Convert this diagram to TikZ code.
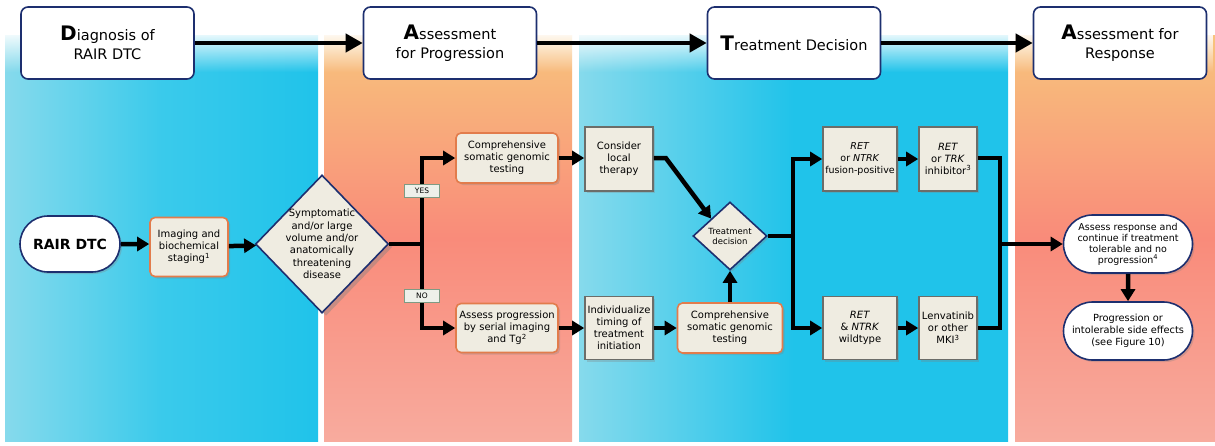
\documentclass[tikz,border=0pt]{standalone}
\usepackage{fontspec}
\setmainfont{DejaVu Sans}
\usetikzlibrary{arrows.meta,shapes.geometric,shapes.misc,shadows,fadings}
\definecolor{navy}{HTML}{1D2F6F}
\definecolor{oline}{HTML}{E27C4C}
\definecolor{gline}{HTML}{6C6D69}
\definecolor{beige}{HTML}{EFECE1}
\definecolor{tline}{HTML}{7E9B84}
\definecolor{tagfill}{HTML}{EEF0EA}
\definecolor{bluel}{HTML}{86DAEC}
\definecolor{bluem}{HTML}{3ACAEB}
\definecolor{bluer}{HTML}{20C3EA}
\definecolor{orgt}{HTML}{F8C47C}
\definecolor{orgm}{HTML}{F98B7A}
\definecolor{orgb}{HTML}{F8AB9E}
\tikzfading[name=fadetop, top color=transparent!0, bottom color=transparent!100]
\newcommand\headfont{\fontsize{14.5}{19}\selectfont}
\newcommand\boxfont{\fontsize{10}{12}\selectfont}
\newcommand\capletter[1]{{\fontsize{20}{19}\selectfont\bfseries #1}}
\begin{document}
\begin{tikzpicture}[x=1pt,y=-1pt,
  head/.style={draw=navy,line width=1.6pt,fill=white,rounded corners=7pt,minimum width=173pt,minimum height=72pt,align=center,font=\headfont},
  shad/.style={drop shadow={opacity=.3,shadow xshift=2pt,shadow yshift=-2pt}},
  obox/.style={shad,draw=oline,line width=1.6pt,fill=beige,rounded corners=5pt,align=center,font=\boxfont,inner sep=1pt},
  gbox/.style={shad,draw=gline,line width=1.6pt,fill=beige,align=center,font=\boxfont,inner sep=1pt},
  dia/.style={diamond,draw=navy,line width=1.6pt,fill=beige,inner sep=0pt},
  pill/.style={shad,rounded rectangle,draw=navy,line width=1.6pt,fill=white,align=center,inner sep=1pt},
  tag/.style={draw=tline,line width=1.2pt,fill=tagfill,font=\fontsize{7.5}{7.5}\selectfont,minimum width=35pt,minimum height=12.5pt,inner sep=0pt},
  link/.style={line width=4.5pt,line join=miter},
  arr/.style={link,-{Triangle[length=12pt,width=14pt]}},
  harr/.style={line width=4pt,-{Triangle[length=17pt,width=18pt]}}]
\useasboundingbox (0,0) rectangle (1215,445);
\shade[left color=bluel,right color=bluer,middle color=bluem] (5,35) rectangle (318,441);
\shade[top color=orgt,bottom color=orgb,middle color=orgm] (324,35) rectangle (572,441);
\shade[left color=bluel,right color=bluer,middle color=bluer] (579,35) rectangle (1008,441);
\shade[top color=orgt,bottom color=orgb,middle color=orgm] (1015,35) rectangle (1215,441);
\fill[white,path fading=fadetop] (0,30) rectangle (1215,72);

\node[head] (hdiag) at (107.5,43) {\capletter{D}iagnosis of\\RAIR DTC};
\node[head] (hprog) at (450,43) {\capletter{A}ssessment\\for Progression};
\node[head] (htreat) at (794,43) {\capletter{T}reatment Decision};
\node[head] (hresp) at (1120,43) {\capletter{A}ssessment for\\Response};
\draw[harr] (hdiag) -- (hprog);
\draw[harr] (hprog) -- (htreat);
\draw[harr] (htreat) -- (hresp);

\node[pill,minimum width=102pt,minimum height=56pt,font=\fontsize{14}{16}\selectfont\bfseries] (rair) at (70,244) {RAIR DTC};
\node[obox,minimum width=78pt,minimum height=59pt] (staging) at (189,247) {Imaging and\\biochemical\\staging\textsuperscript{1}};
\node[dia,minimum width=133pt,minimum height=138pt,drop shadow={opacity=.4,shadow xshift=4pt,shadow yshift=-3pt}] (symp) at (322,244) {};
\node[align=center,font=\fontsize{10}{12.3}\selectfont] at (symp) {Symptomatic\\and/or large\\volume and/or\\anatomically\\threatening\\disease};
\coordinate (br1) at (422,244);

\node[obox,minimum width=102pt,minimum height=50pt] (cgta) at (507,158) {Comprehensive\\somatic genomic\\testing};
\node[obox,minimum width=102pt,minimum height=49pt] (serial) at (507,328) {Assess progression\\by serial imaging\\and Tg\textsuperscript{2}};
\node[gbox,minimum width=68pt,minimum height=64pt] (local) at (619,159) {Consider\\local\\therapy};
\node[gbox,minimum width=68pt,minimum height=63pt] (indiv) at (619,328) {Individualize\\timing of\\treatment\\initiation};
\node[obox,minimum width=105pt,minimum height=50pt] (cgtb) at (730,328) {Comprehensive\\somatic genomic\\testing};
\node[dia,minimum width=74pt,minimum height=68pt,shad] (tdec) at (730,236) {};
\node[align=center,font=\fontsize{8.5}{10}\selectfont] at (tdec) {Treatment\\decision};
\coordinate (br2) at (793,236);

\node[gbox,minimum width=74pt,minimum height=64pt,font=\fontsize{9.5}{12}\selectfont] (fusion) at (860,159) {\textit{RET}\\or \textit{NTRK}\\fusion-positive};
\node[gbox,minimum width=58pt,minimum height=64pt] (inhib) at (948,159) {\textit{RET}\\or \textit{TRK}\\inhibitor\textsuperscript{3}};
\node[gbox,minimum width=74pt,minimum height=63pt] (wild) at (860,328) {\textit{RET}\\\& \textit{NTRK}\\wildtype};
\node[gbox,minimum width=58pt,minimum height=63pt] (lenva) at (948,328) {Lenvatinib\\or other\\MKI\textsuperscript{3}};
\coordinate (mg) at (1000,244);

\node[pill,minimum width=131pt,minimum height=58pt,font=\fontsize{9.5}{11}\selectfont] (resp) at (1128,244) {Assess response and\\continue if treatment\\tolerable and no\\progression\textsuperscript{4}};
\node[pill,minimum width=131pt,minimum height=58pt,font=\fontsize{9.8}{12}\selectfont] (prog) at (1128,331) {Progression or\\intolerable side effects\\(see Figure 10)};

\draw[arr] (rair) -- (staging.west |- rair);
\draw[arr] (staging) -- (symp);
\draw[link] (symp.east) -- (br1);
\draw[arr] (br1) |- (cgta.west);
\draw[arr] (br1) |- (serial.west);
\node[tag] (yes) at (422,191) {YES};
\node[tag] (no) at (422,296) {NO};
\draw[arr] (cgta) -- (local.west |- cgta);
\draw[arr] (serial) -- (indiv.west |- serial);
\draw[arr] (indiv) -- (cgtb);
\draw[arr] (cgtb) -- (tdec);
\draw[arr] (local.east |- cgta) -- ++(12,0) -- (tdec.north west);
\draw[link] (tdec.east) -- (br2);
\draw[arr] (br2) |- (fusion.west);
\draw[arr] (br2) |- (wild.west);
\draw[arr] (fusion) -- (inhib);
\draw[arr] (wild) -- (lenva);
\draw[link] (inhib.east |- cgta) -| (mg) |- (lenva.east);
\draw[arr] (mg) -- (resp);
\draw[arr] (resp) -- (prog);
\end{tikzpicture}
\end{document}
